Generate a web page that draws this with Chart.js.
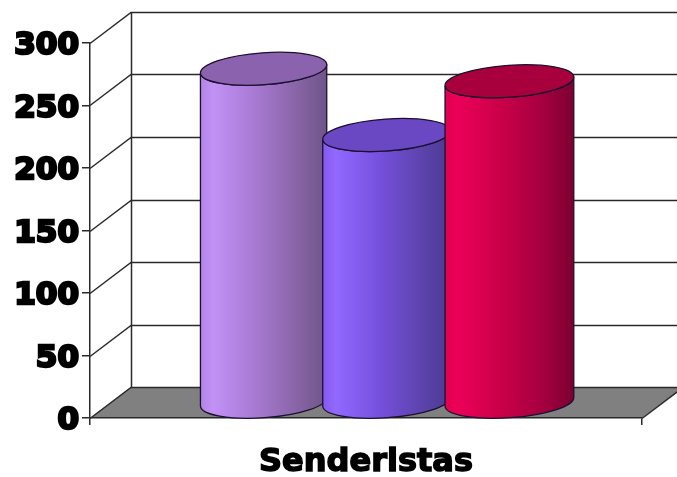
<!DOCTYPE html>
<html><head><meta charset="utf-8">
<script src="https://cdn.jsdelivr.net/npm/chart.js@4"></script>
<style>html,body{margin:0;padding:0;background:#fff}canvas{display:block}</style>
</head><body><canvas id="c" width="677" height="477"></canvas>
<script>
const categories = ['Senderistas'];
const seriesA = [267];
const seriesB = [214];
const seriesC = [257];
const yTicks = [0, 50, 100, 150, 200, 250, 300];
const palettes = [
  {stops:['#b184e8','#c291f6','#a679d0','#8a65a8','#6e5488'], top:'#8a62ae'},
  {stops:['#8258f0','#9268ff','#7550dc','#5f44b0','#4a3a90'], top:'#6a48c4'},
  {stops:['#e0004e','#ec0058','#c80048','#a60040','#7c0030'], top:'#a8003c'}
];
const DX = 41, DY = 31, TILT = -4 * Math.PI / 180, RY = 16;

const scene = {
  id: 'scene',
  beforeDraw(chart) {
    const {ctx, scales:{x, y}} = chart;
    const L = x.left, R = x.right, B = y.getPixelForValue(0), W = chart.width;
    ctx.save();
    ctx.fillStyle = '#fff';
    ctx.fillRect(0, 0, W, chart.height);
    ctx.fillStyle = '#808080';
    ctx.beginPath();
    ctx.moveTo(L, B); ctx.lineTo(L + DX, B - DY); ctx.lineTo(R + DX, B - DY); ctx.lineTo(R, B);
    ctx.closePath(); ctx.fill();
    ctx.strokeStyle = '#2a2a2a'; ctx.lineWidth = 1.5;
    ctx.beginPath();
    yTicks.forEach(v => {
      const p = Math.round(y.getPixelForValue(v)) + 0.5;
      ctx.moveTo(L, p); ctx.lineTo(L + DX, p - DY); ctx.lineTo(W, p - DY);
    });
    const top = Math.round(y.getPixelForValue(300)) + 0.5;
    ctx.moveTo(L + DX + 0.5, top - DY); ctx.lineTo(L + DX + 0.5, Math.round(B) + 0.5 - DY);
    ctx.moveTo(R, Math.round(B) + 0.5); ctx.lineTo(R + DX, Math.round(B) + 0.5 - DY);
    ctx.stroke();
    ctx.restore();
  },
  afterDatasetsDraw(chart) {
    const {ctx} = chart;
    chart.data.datasets.forEach((ds, i) => {
      const el = chart.getDatasetMeta(i).data[0];
      const cx = el.x + DX / 2, rx = el.width / 2;
      const ty = el.y - DY / 2, by = el.base - DY / 2;
      const pal = palettes[i];
      const g = ctx.createLinearGradient(cx - rx, 0, cx + rx, 0);
      [0, 0.1, 0.45, 0.75, 1].forEach((s, k) => g.addColorStop(s, pal.stops[k]));
      ctx.save();
      ctx.beginPath();
      ctx.ellipse(cx, ty, rx, RY, TILT, Math.PI, 0, true);
      ctx.ellipse(cx, by, rx, RY, TILT, 0, Math.PI, false);
      ctx.closePath();
      ctx.fillStyle = g; ctx.fill();
      ctx.strokeStyle = '#1c1030'; ctx.lineWidth = 1.3; ctx.stroke();
      ctx.beginPath();
      ctx.ellipse(cx, ty, rx, RY, TILT, 0, Math.PI * 2);
      ctx.fillStyle = pal.top; ctx.fill();
      ctx.stroke();
      ctx.restore();
    });
  }
};

const hidden = 'rgba(0,0,0,0)';
new Chart(document.getElementById('c'), {
  type: 'bar',
  data: {
    labels: categories,
    datasets: [
      {label: 'A', data: seriesA, backgroundColor: hidden, barPercentage: 1.03},
      {label: 'B', data: seriesB, backgroundColor: hidden, barPercentage: 1.04},
      {label: 'C', data: seriesC, backgroundColor: hidden, barPercentage: 1.05}
    ]
  },
  plugins: [scene],
  options: {
    responsive: false, animation: false,
    layout: {padding: {top: 43, right: 35, left: 0, bottom: 0}},
    plugins: {legend: {display: false}, tooltip: {enabled: false}},
    datasets: {bar: {categoryPercentage: 0.668}},
    scales: {
      x: {
        grid: {offset: true, drawOnChartArea: false, tickLength: 7, color: '#2a2a2a', lineWidth: 1.5},
        border: {color: '#2a2a2a', width: 1.5},
        ticks: {padding: 18, color: '#000', font: {family: '"DejaVu Sans"', weight: 'bold', size: 32}, textStrokeColor: '#000', textStrokeWidth: 1.5, maxRotation: 0},
        afterFit(s) { s.height = 59; }
      },
      y: {
        min: 0, max: 300,
        afterBuildTicks(s) { s.ticks = yTicks.map(v => ({value: v})); },
        grid: {drawOnChartArea: false, tickLength: 8, color: '#2a2a2a', lineWidth: 1.5},
        border: {color: '#2a2a2a', width: 1.5},
        ticks: {padding: 3, labelOffset: 3, color: '#000', font: {family: '"DejaVu Sans"', weight: 'bold', size: 31}, textStrokeColor: '#000', textStrokeWidth: 2.5},
        afterFit(s) { s.width = 90; }
      }
    }
  }
});
</script></body></html>
